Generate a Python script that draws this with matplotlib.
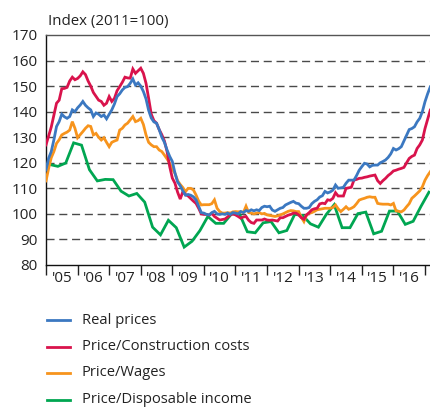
import numpy as np
import matplotlib
matplotlib.use("Agg")
import matplotlib.pyplot as plt
from matplotlib.lines import Line2D

plt.rcParams['font.family'] = ['Open Sans', 'DejaVu Sans']

# monthly series, Jan 2005 .. Mar 2017 (index 2011=100)
real_prices = [
    117.2, 121.8, 124.4, 129.0, 134.2, 136.1, 139.0, 138.0, 137.4, 138.1, 140.7, 140.0,  # 2005
    141.5, 142.6, 144.0, 142.5, 141.5, 140.7, 138.1, 139.5, 139.0, 138.1, 138.7, 137.2,  # 2006
    139.0, 140.7, 143.0, 145.9, 147.0, 148.5, 149.5, 149.8, 151.1, 152.8, 150.4, 151.3,  # 2007
    150.0, 147.9, 145.0, 140.5, 137.5, 136.0, 135.5, 133.0, 130.0, 128.0, 125.0, 122.5,  # 2008
    120.5, 116.0, 112.5, 111.0, 109.0, 107.3, 107.6, 107.3, 106.7, 105.5, 103.0, 100.5,  # 2009
    100.3, 99.8, 99.6, 100.5, 101.0, 100.0, 99.8, 100.0, 99.8, 100.3, 99.8, 100.5,       # 2010
    100.3, 100.0, 100.9, 100.5, 101.3, 101.0, 101.6, 101.2, 101.6, 101.3, 102.5, 103.0,  # 2011
    102.8, 103.0, 101.5, 101.0, 101.6, 102.2, 102.5, 103.5, 104.0, 104.5, 104.9, 104.2,  # 2012
    104.0, 103.0, 102.2, 102.2, 102.5, 104.0, 104.9, 105.5, 106.6, 107.1, 108.8, 108.2,  # 2013
    108.6, 109.3, 111.3, 110.0, 110.2, 110.4, 112.0, 113.2, 113.2, 113.2, 115.0, 117.1,  # 2014
    118.5, 119.8, 119.5, 118.4, 119.0, 119.1, 119.1, 120.0, 120.5, 121.1, 122.1, 123.5,  # 2015
    125.6, 125.0, 125.5, 126.3, 128.5, 130.8, 133.0, 133.4, 134.1, 136.0, 137.4, 140.0,  # 2016
    143.9, 147.0, 149.7,                                                                 # 2017
]
price_construction = [
    127.0, 130.5, 134.0, 138.6, 143.3, 144.5, 149.0, 149.1, 149.5, 152.0, 153.5, 152.5,
    153.0, 154.0, 155.6, 154.5, 152.0, 150.0, 147.5, 146.0, 144.5, 144.0, 142.5, 143.3,
    145.9, 144.0, 145.2, 148.2, 149.8, 151.5, 153.5, 153.2, 153.1, 156.7, 155.0, 156.0,
    157.0, 155.0, 151.1, 145.2, 139.0, 136.5, 135.5, 133.0, 131.0, 128.5, 124.4, 118.5,
    114.0, 112.0, 108.5, 105.8, 108.7, 107.6, 107.0, 106.0, 105.0, 104.1, 102.2, 100.0,
    99.8, 99.8, 99.5, 100.2, 99.0, 98.3, 97.6, 97.8, 98.0, 98.8, 99.6, 100.0,
    99.6, 99.0, 98.3, 98.8, 99.0, 97.5, 96.6, 96.3, 97.6, 97.6, 97.6, 98.0,
    97.6, 97.5, 97.6, 97.4, 97.2, 98.5, 98.5, 99.0, 99.5, 99.8, 100.3, 100.3,
    99.6, 98.5, 97.9, 99.6, 100.5, 101.6, 102.0, 102.2, 103.9, 104.2, 104.0, 105.5,
    105.3, 106.1, 108.3, 107.0, 107.0, 107.0, 110.0, 110.2, 110.4, 113.2, 113.5, 113.9,
    114.0, 114.3, 114.5, 114.8, 115.0, 115.2, 113.0, 111.9, 113.0, 113.9, 115.0, 115.8,
    116.8, 117.1, 117.5, 117.8, 118.2, 120.0, 121.7, 122.5, 123.0, 125.6, 127.0, 128.9,
    133.4, 137.0, 140.6,
]
price_wages = [
    112.9, 117.8, 122.0, 124.4, 127.6, 129.0, 130.9, 131.5, 132.0, 132.8, 136.1, 133.5,
    129.8, 131.0, 132.2, 133.5, 134.5, 134.2, 130.9, 131.5, 130.0, 128.9, 129.8, 128.0,
    126.3, 128.0, 128.5, 128.9, 132.8, 133.5, 134.8, 135.5, 136.8, 138.1, 136.1, 136.5,
    137.4, 135.0, 130.9, 128.0, 127.0, 126.3, 126.3, 125.0, 124.4, 123.0, 121.5, 119.8,
    117.5, 115.9, 113.0, 111.5, 110.3, 108.7, 110.0, 110.0, 109.4, 107.4, 105.0, 103.5,
    103.6, 103.6, 103.6, 104.0, 105.5, 102.2, 100.9, 100.3, 100.3, 100.5, 100.3, 100.8,
    100.9, 100.8, 100.9, 100.5, 103.0, 100.5, 100.3, 100.0, 100.3, 100.5, 100.0, 100.2,
    99.6, 99.4, 99.2, 99.0, 99.2, 99.6, 100.0, 100.5, 101.0, 101.3, 101.2, 100.9,
    100.9, 98.7, 97.0, 99.6, 100.2, 100.5, 101.0, 101.6, 101.8, 102.0, 102.2, 102.2,
    102.2, 102.5, 103.5, 102.0, 100.9, 101.8, 102.8, 101.8, 102.2, 102.8, 104.0, 105.4,
    105.8, 106.1, 106.5, 106.7, 106.5, 106.5, 104.1, 103.9, 103.8, 103.8, 103.8, 103.5,
    104.1, 101.2, 101.0, 100.8, 101.5, 102.8, 104.0, 106.1, 107.0, 108.0, 109.0, 110.6,
    113.2, 115.0, 116.5,
]
# quarterly series, 2004Q4 .. 2017Q1
price_income = [
    119.5,
    119.3, 118.6, 119.9, 127.8,
    126.9, 117.3, 112.9, 113.5,
    113.4, 108.9, 107.0, 108.0,
    104.6, 94.8, 91.8, 97.5,
    94.6, 87.0, 89.3, 93.5,
    99.0, 96.3, 96.3, 100.0,
    100.0, 93.0, 92.6, 96.5,
    97.0, 92.6, 93.5, 99.8,
    99.4, 96.1, 94.8, 99.8,
    103.6, 94.6, 94.6, 100.1,
    100.7, 92.2, 93.2, 101.1,
    101.1, 95.9, 97.1, 103.0,
    108.5,
]

labels = ['Real prices', 'Price/Construction costs', 'Price/Wages', 'Price/Disposable income']
colors = ['#3b78c1', '#d9134c', '#f7941d', '#00a651']
years = list(range(2005, 2017))
year_labels = ["'" + str(y)[2:] for y in years]

t_month = 2005 + np.arange(len(real_prices)) / 12
t_quarter = 2004.75 + np.arange(len(price_income)) / 4 + 0.125

W, H = 431, 407
fig = plt.figure(figsize=(W / 100, H / 100), dpi=100)
ax = fig.add_axes([46 / W, 1 - 265 / H, 1 - 46 / W, 230 / H])

for yv in range(90, 170, 10):
    ax.axhline(yv, color='#4a4a4a', lw=1.0, ls=(0, (5.8, 3.4)), zorder=1)

lw = 2.0
for series, c in zip([price_income, price_wages, price_construction, real_prices], colors[::-1]):
    tt = t_quarter if series is price_income else t_month
    ax.plot(tt, series, color=c, lw=lw, solid_joinstyle='miter', zorder=3)

ax.set_xlim(2005, 2017.19)
ax.set_ylim(80, 170)
ax.set_yticks(range(80, 171, 10))
ax.tick_params(axis='y', length=0, pad=6, labelsize=11, colors='#222222')

ax.set_xticks(range(2005, 2018))
ax.set_xticklabels([])
ax.set_xticks([y + 0.5 for y in years], minor=True)
ax.set_xticklabels(year_labels, minor=True)
ax.tick_params(axis='x', which='major', length=7, width=1.0, direction='out', color='#222222')
ax.tick_params(axis='x', which='minor', length=0, pad=4, labelsize=11, colors='#222222')

for s in ['left', 'bottom']:
    ax.spines[s].set_color('#111111')
    ax.spines[s].set_linewidth(1.0)
ax.spines['top'].set_color('#555555')
ax.spines['top'].set_linewidth(1.0)
ax.spines['right'].set_visible(False)

fig.text(48 / W, 1 - 22 / H, 'Index (2011=100)', fontsize=10.8, color='#222222',
         ha='left', va='center')

# legend drawn by hand below the axes
for i, (lab, c) in enumerate(zip(labels, colors)):
    yy = 1 - (320 + 26.5 * i) / H
    fig.add_artist(Line2D([47 / W, 70 / W], [yy, yy], color=c, lw=2.0,
                          transform=fig.transFigure))
    fig.text(82 / W, yy, lab, fontsize=10.6, color='#222222', ha='left', va='center')

fig.savefig('out.png', dpi=100)
